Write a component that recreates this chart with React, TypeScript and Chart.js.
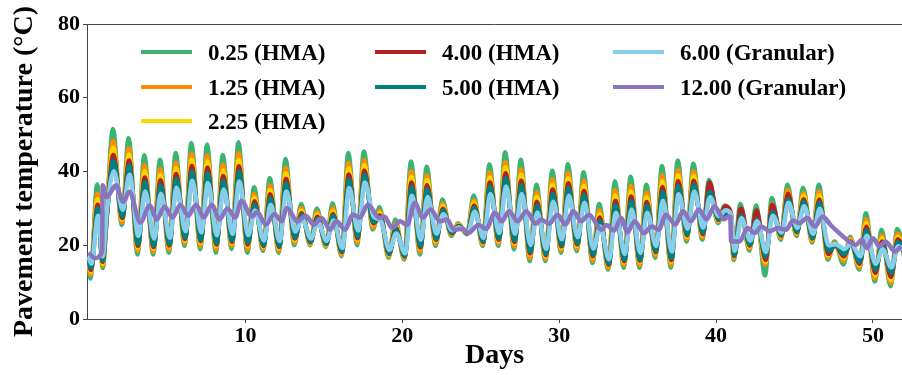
import React, { useEffect, useRef } from 'react';
import { Chart, registerables } from 'chart.js';

Chart.register(...registerables);

const FONT = '"Liberation Serif", "Times New Roman", serif';

// ---- data (°C) ----
const xTicks = [10, 20, 30, 40, 50];
const yTicks = [0, 20, 40, 60, 80];

// extra points: start, dip before the jump, level before the drop
const extraDays = [0, 0.9, 40.95];

// daily troughs (index d, early morning of day d) and peaks (afternoon of day d)
const trough025 = [11, 25, 25.5, 17.5, 17.5, 18, 19.8, 18.9, 18, 19, 18, 18.5, 18, 20, 20, 19.5, 17, 20, 24.3, 16.6, 16.1, 17.5, 19.8, 22.5, 23, 19.8, 19.8, 18.9, 15.7, 15.7, 18, 18.4, 15.2, 13.4, 13.9, 13.9, 16.6, 13.9, 21, 21.5, 26, 16, 18.5, 11.8, 21.5, 22.5, 20.7, 16.1, 14.8, 13.4, 10.2, 8.9, 14];
const peak025 = [36.5, 51.5, 49, 44.4, 43.2, 45, 47.7, 47.3, 44.5, 47.9, 35.7, 38.2, 43.4, 31.2, 30, 31.4, 45, 45.4, 30.3, 27, 42.7, 41.3, 32.4, 26, 33.5, 41.9, 45.2, 43.2, 36.4, 40.2, 42, 39.8, 31.2, 37.3, 38.6, 36.4, 41.5, 43, 42.1, 37.7, 30.8, 31.2, 30.8, 32.8, 36.4, 35.6, 36.4, 21, 22.3, 28.7, 24.2, 24.4];
const extra025 = [15, 13.8, 27];

const trough125 = [12, 26, 26.3, 18.5, 18.3, 18.8, 20.6, 19.8, 18.9, 19.8, 18.9, 19, 18.6, 20.7, 20.3, 19.8, 17.4, 20.8, 24.9, 17, 16.4, 18.3, 20.4, 22.8, 23.1, 20.2, 20.5, 19.7, 16.5, 16.3, 18.7, 19.1, 15.9, 13.9, 14.6, 14.6, 17.2, 14.7, 21.7, 22.1, 26.4, 16.4, 19.1, 14.7, 22, 22.9, 21.1, 16.7, 15.8, 14, 11, 9.8, 15];
const peak125 = [34, 48.3, 46.3, 41.7, 40.7, 42.4, 44.9, 44.4, 41.9, 45, 34, 36.2, 41, 30.1, 29, 30.1, 42.4, 43.1, 29.3, 25.9, 40.1, 39, 31.3, 25.7, 32.3, 39.7, 42.6, 40.6, 34.3, 37.9, 39.6, 37.5, 29.5, 34.9, 36.1, 34.3, 38.9, 40.4, 40, 36.3, 29.5, 29.5, 29, 31.2, 35, 34.2, 34.6, 20.6, 21.8, 27, 22.7, 23.1];
const extra125 = [15.5, 14.4, 27.3];

const trough225 = [12.8, 27, 27, 19.3, 19.1, 19.5, 21.3, 20.6, 19.8, 20.5, 19.8, 19.5, 19.2, 21.4, 20.7, 20.1, 17.9, 21.5, 25.6, 17.4, 16.8, 19, 21.1, 23.1, 23.2, 20.6, 21.1, 20.5, 17.4, 16.9, 19.3, 19.8, 16.7, 14.5, 15.3, 15.4, 17.8, 15.6, 22.3, 22.7, 26.7, 16.9, 19.6, 15.5, 22.4, 23.3, 21.6, 17.3, 16.5, 14.6, 11.8, 10.6, 15.5];
const peak225 = [32.5, 46.4, 44.6, 40.1, 39.1, 40.8, 43.2, 42.7, 40.3, 43.2, 32.9, 35, 39.5, 29.4, 28.4, 29.3, 40.8, 41.7, 28.7, 25.3, 38.6, 37.7, 30.6, 25.5, 31.6, 38.4, 41.1, 39.1, 33.1, 36.5, 38.2, 36.1, 28.5, 33.5, 34.6, 33, 37.3, 38.9, 38.8, 35.5, 29, 28.8, 28.2, 30.3, 34, 33.4, 33.5, 20.3, 21.4, 26, 21.9, 22.3];
const extra225 = [16, 15, 27.5];

const trough400 = [13.3, 27.5, 27.4, 19.8, 19.5, 19.9, 21.7, 21.1, 20.2, 20.9, 20.2, 19.8, 19.5, 21.8, 20.8, 20.3, 18.1, 21.9, 25.9, 17.6, 16.9, 19.4, 21.4, 23.2, 23.2, 20.8, 21.5, 20.9, 17.8, 17.3, 19.7, 20.2, 17, 14.7, 15.7, 15.8, 18.1, 16, 22.7, 23, 26.9, 17.1, 19.9, 16, 22.6, 23.5, 21.8, 17.6, 17, 15, 12.5, 11.4, 16];
const peak400 = [31, 44.5, 43, 38.4, 37.6, 39.3, 41.5, 41, 38.8, 41.4, 31.9, 33.8, 38, 28.7, 27.7, 28.5, 39.2, 40.3, 28.1, 24.7, 37, 36.3, 29.9, 25.3, 30.8, 37, 39.5, 37.5, 31.8, 35.1, 36.8, 34.7, 27.5, 32.1, 33.2, 31.7, 35.7, 37.4, 37.5, 37, 30.5, 30, 29.5, 31, 34, 32.5, 32.4, 20.1, 21, 25, 21, 21.6];
const extra400 = [16.2, 15.5, 28.5];

const trough500 = [13.8, 28, 27.8, 20.3, 19.9, 20.3, 22.1, 21.5, 20.6, 21.3, 20.7, 20, 19.8, 22.1, 21, 20.4, 18.3, 22.3, 26.2, 17.8, 17.1, 19.8, 21.7, 23.4, 23.3, 21, 21.8, 21.3, 18.2, 17.6, 20, 20.5, 17.4, 15, 16, 16.1, 18.4, 16.4, 23, 23.4, 27.1, 17.3, 20.2, 17, 22.8, 23.7, 22, 18.5, 17.5, 15.5, 13.5, 12.5, 16.5];
const peak500 = [30, 42.9, 41.6, 37.1, 36.3, 38, 40, 39.5, 37.5, 40, 31, 32.8, 36.8, 28.2, 27.2, 27.9, 37.8, 39.1, 27.6, 24.1, 35.7, 35.2, 29.4, 25.1, 30.2, 35.9, 38.2, 36.2, 30.8, 33.9, 35.6, 33.6, 26.6, 30.9, 31.9, 30.7, 34.4, 36.1, 36.5, 34.5, 28.5, 28, 27, 29, 32.5, 31.8, 31.5, 20, 20.7, 24.1, 20.2, 20.9];
const extra500 = [16.5, 15.8, 28];

const trough600 = [15, 30, 29.6, 22.5, 21.8, 22, 23.8, 23.5, 22.7, 23.1, 22.8, 21.3, 21.2, 23.7, 21.8, 21.2, 19.3, 24, 27.7, 18.8, 17.8, 21.5, 23.2, 24.1, 23.5, 22, 23.3, 23.1, 20.1, 19, 21.6, 22.2, 19.1, 16.2, 17.6, 17.9, 19.8, 18.3, 24.5, 24.8, 27.9, 18.5, 21.3, 18.2, 23.5, 24.7, 23.1, 20, 19, 17, 15, 14, 18];
const peak600 = [28, 40.1, 39.1, 34.6, 34, 35.6, 37.5, 36.9, 35.1, 37.3, 29.4, 31, 34.6, 27.2, 26.3, 26.7, 35.5, 37, 26.8, 23.2, 33.4, 33.1, 28.4, 24.8, 29.1, 33.9, 35.9, 33.9, 28.9, 31.8, 33.4, 31.5, 25.1, 28.8, 29.7, 28.8, 32.1, 33.8, 34.6, 33, 29.5, 27.3, 26.5, 28, 31.5, 30.6, 29.9, 20.3, 20.5, 22.6, 18.9, 19.7];
const extra600 = [17, 17, 28.3];

// 12.00 (Granular): slow layer, read point by point
const days1200 = [0, 0.4, 0.87, 0.9, 1.15, 1.75, 2.2, 2.6, 3.3, 3.9, 4.35, 4.85, 5.35, 5.85, 6.35, 6.85, 7.35, 7.85, 8.35, 8.85, 9.35, 9.75, 10.4, 10.75, 11.3, 11.85, 12.3, 12.65, 13.3, 13.85, 14.35, 14.85, 15.4, 15.8, 16.35, 16.85, 17.3, 17.8, 18.55, 18.85, 19.35, 19.85, 20.3, 20.8, 21.3, 21.8, 22.4, 22.85, 23.3, 23.85, 24.2, 24.85, 25.35, 25.9, 26.35, 26.8, 27.35, 27.9, 28.5, 28.85, 29.35, 29.9, 30.4, 30.9, 31.4, 31.9, 32.7, 33.0, 33.5, 33.95, 34.35, 34.8, 35.4, 35.9, 36.35, 36.8, 37.4, 37.9, 38.4, 38.9, 39.4, 39.9, 40.5, 40.8, 40.9, 40.96, 41.5, 42.0, 42.45, 42.9, 43.4, 43.95, 44.45, 44.9, 45.3, 45.8, 46.3, 46.8, 47.3, 47.8, 48.5, 48.9, 49.3, 49.6, 50.0, 50.4, 50.8, 51.4, 51.8];
const temps1200 = [18, 16.5, 18.5, 36.3, 33, 36.3, 31.8, 34.5, 26.2, 30.8, 27, 30.5, 27.5, 31, 28, 31, 27.5, 31, 27, 30, 27.5, 32, 27.8, 29, 25.6, 28.5, 26.5, 30.1, 26.5, 28, 25.6, 27.4, 24.2, 26.5, 24.2, 28.3, 27.5, 31, 27.4, 27.8, 24.7, 26.5, 25.5, 31.5, 27.5, 29.7, 26.5, 27, 24.2, 24.5, 23.3, 25.5, 24.5, 28.8, 26.5, 29.2, 26.5, 29.2, 25.8, 27, 25.8, 28.3, 25.6, 29.2, 26.5, 28.3, 24.2, 25.5, 24, 27.4, 23.5, 26.5, 23.3, 25.1, 24.2, 28.3, 25.6, 29.2, 26.5, 29.7, 27, 30.6, 27, 27.8, 27.8, 21, 21, 24.7, 23.3, 25.1, 23.8, 24.7, 24.2, 26.7, 26, 27.4, 25.1, 27.8, 25.5, 23.5, 21, 20.1, 21.5, 19.2, 21.9, 19.7, 21, 18.3, 19.7];

const TROUGH_PHASE = 0.12;
const PEAK_PHASE = 0.55;

type Pt = { x: number; y: number };

function buildDaily(troughs: number[], peaks: number[], extras: number[], lag: number): Pt[] {
  const pts: Pt[] = [];
  extraDays.forEach((d, i) => pts.push({ x: d, y: extras[i] }));
  troughs.forEach((v, d) => pts.push({ x: d + TROUGH_PHASE + lag, y: v }));
  peaks.forEach((v, d) => pts.push({ x: d + PEAK_PHASE + lag, y: v }));
  pts.sort((a, b) => a.x - b.x);
  return pts;
}

const series = [
  { label: '0.25 (HMA)', color: '#3cb371', pts: () => buildDaily(trough025, peak025, extra025, 0) },
  { label: '1.25 (HMA)', color: '#ff8c00', pts: () => buildDaily(trough125, peak125, extra125, 0.01) },
  { label: '2.25 (HMA)', color: '#ffd700', pts: () => buildDaily(trough225, peak225, extra225, 0.02) },
  { label: '4.00 (HMA)', color: '#b22222', pts: () => buildDaily(trough400, peak400, extra400, 0.03) },
  { label: '5.00 (HMA)', color: '#008080', pts: () => buildDaily(trough500, peak500, extra500, 0.04) },
  { label: '6.00 (Granular)', color: '#87ceeb', pts: () => buildDaily(trough600, peak600, extra600, 0.06) },
  { label: '12.00 (Granular)', color: '#8a74c0', pts: () => days1200.map((d, i) => ({ x: d, y: temps1200[i] })) },
];

// legend layout: column-major, 3 columns
const legendCols = [141, 375, 613];
const legendRows = [52, 87, 121];
const legendSlots = [[0, 0], [0, 1], [0, 2], [1, 0], [1, 1], [2, 0], [2, 1]];

const topSpine = {
  id: 'topSpine',
  afterDatasetsDraw(chart: any) {
    const { ctx, chartArea } = chart;
    ctx.save();
    ctx.strokeStyle = '#444';
    ctx.lineWidth = 1;
    ctx.beginPath();
    ctx.moveTo(chartArea.left, chartArea.top + 0.5);
    ctx.lineTo(chartArea.right, chartArea.top + 0.5);
    ctx.stroke();
    ctx.restore();
  },
};

export default function App() {
  const ref = useRef<HTMLCanvasElement | null>(null);

  useEffect(() => {
    document.body.style.margin = '0';
    const canvas = ref.current;
    if (!canvas) return;
    const n = series.length;
    const chart = new Chart(canvas, {
      type: 'line',
      data: {
        datasets: series.map((s, i) => ({
          label: s.label,
          data: s.pts(),
          borderColor: s.color,
          backgroundColor: s.color,
          borderWidth: 4.5,
          pointRadius: 0,
          fill: false,
          cubicInterpolationMode: 'monotone' as const,
          order: n - 1 - i,
        })),
      },
      options: {
        animation: false,
        responsive: false,
        maintainAspectRatio: false,
        layout: { padding: { top: 24, left: 0, right: 0, bottom: 0 } },
        plugins: { legend: { display: false }, tooltip: { enabled: false } },
        scales: {
          x: {
            type: 'linear',
            min: -0.1,
            max: 51.85,
            afterBuildTicks: (s: any) => { s.ticks = xTicks.map((v) => ({ value: v })); },
            afterFit: (s: any) => { s.height = 56; },
            grid: { drawOnChartArea: false, drawTicks: true, tickLength: 4, color: '#444' },
            border: { display: true, color: '#444', width: 1 },
            ticks: { font: { family: FONT, size: 22, weight: 'bold' }, color: '#000', padding: 0, maxRotation: 0, autoSkip: false },
            title: { display: true, text: 'Days', font: { family: FONT, size: 28, weight: 'bold' }, color: '#000', padding: { top: 0, bottom: 2 } },
          },
          y: {
            min: 0,
            max: 80,
            afterBuildTicks: (s: any) => { s.ticks = yTicks.map((v) => ({ value: v })); },
            afterFit: (s: any) => { s.width = 87; },
            grid: { drawOnChartArea: false, drawTicks: true, tickLength: 4, color: '#444' },
            border: { display: true, color: '#444', width: 1 },
            ticks: { font: { family: FONT, size: 22, weight: 'bold' }, color: '#000', padding: 3 },
            title: { display: true, text: 'Pavement temperature (°C)', font: { family: FONT, size: 28, weight: 'bold' }, color: '#000', padding: { top: 8, bottom: 0 } },
          },
        },
      } as any,
      plugins: [topSpine],
    });
    return () => chart.destroy();
  }, []);

  return (
    <div style={{ position: 'relative', width: 902, height: 375 }}>
      <canvas ref={ref} width={902} height={375} style={{ display: 'block', width: 902, height: 375 }} />
      {series.map((s, i) => {
        const [c, r] = legendSlots[i];
        const x = legendCols[c];
        const y = legendRows[r];
        return (
          <div key={s.label}>
            <div style={{ position: 'absolute', left: x, top: y - 2, width: 51, height: 4, background: s.color }} />
            <div
              style={{
                position: 'absolute',
                left: x + 67,
                top: y,
                transform: 'translateY(-50%)',
                fontFamily: FONT,
                fontWeight: 'bold',
                fontSize: 23,
                lineHeight: 1,
                color: '#000',
                whiteSpace: 'nowrap',
              }}
            >
              {s.label}
            </div>
          </div>
        );
      })}
    </div>
  );
}
